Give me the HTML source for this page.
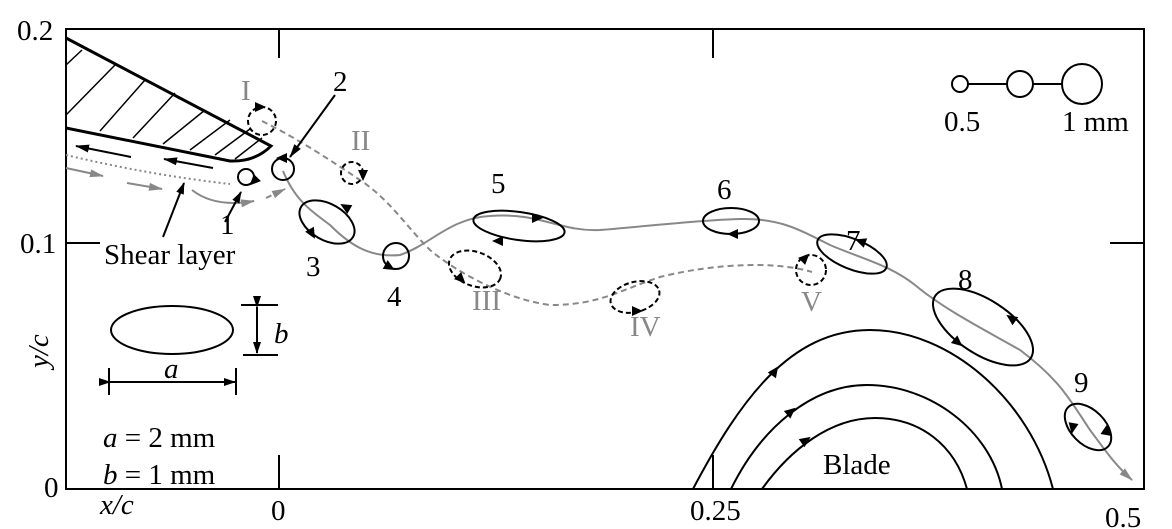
<!DOCTYPE html>
<html><head><style>
body{margin:0;background:#fff}
svg{display:block}
text{font-family:"Liberation Serif",serif;font-size:29px;fill:#000}
.g{fill:#888}
</style></head><body>
<svg width="1172" height="529" viewBox="0 0 1172 529" xmlns="http://www.w3.org/2000/svg">
<defs>
<marker id="ab" markerWidth="12" markerHeight="10" refX="11" refY="5" orient="auto" markerUnits="userSpaceOnUse"><path d="M0,1 L12,5 L0,9z" fill="#000"/></marker>
<marker id="ag" markerWidth="14" markerHeight="10" refX="13" refY="5" orient="auto" markerUnits="userSpaceOnUse"><path d="M0,1 L14,5 L0,9z" fill="#888"/></marker>
<marker id="ab2" markerWidth="14" markerHeight="10" refX="13" refY="5" orient="auto" markerUnits="userSpaceOnUse"><path d="M0,1 L14,5 L0,9z" fill="#000"/></marker>
<path id="h" d="M2,0 L-9,-5 L-9,5z" fill="#000"/>
</defs>
<g fill="none" stroke="#000" stroke-width="2">
<rect x="66" y="29" width="1078" height="460"/>
<line x1="279" y1="29" x2="279" y2="58"/><line x1="713" y1="29" x2="713" y2="58"/>
<line x1="279" y1="489" x2="279" y2="455"/><line x1="713" y1="489" x2="713" y2="455"/>
<line x1="66" y1="243" x2="100" y2="243"/><line x1="1110" y1="243" x2="1144" y2="243"/>
</g>
<g fill="none" stroke="#000">
<path d="M66,38 L271,146 Q255,162 230,161 L66,128" stroke-width="3"/>
<g stroke-width="1.5">
<line x1="66" y1="65" x2="82" y2="50"/><line x1="66" y1="115" x2="115" y2="65"/>
<line x1="100" y1="131" x2="145" y2="80"/><line x1="133" y1="138" x2="175" y2="93"/>
<line x1="163" y1="144" x2="205" y2="110"/><line x1="190" y1="150" x2="230" y2="120"/>
<line x1="215" y1="155" x2="250" y2="129"/><line x1="235" y1="159" x2="262" y2="138"/>
</g>
<line x1="131" y1="157" x2="76" y2="146" stroke-width="2" marker-end="url(#ab2)"/>
<line x1="213" y1="168" x2="164" y2="159" stroke-width="2" marker-end="url(#ab2)"/>
</g>
<g fill="none" stroke="#888" stroke-width="2">
<path d="M66,155 Q150,175 230,184" stroke-dasharray="2,3"/>
<line x1="66" y1="168" x2="103" y2="176" marker-end="url(#ag)"/>
<line x1="127" y1="183" x2="162" y2="189" marker-end="url(#ag)"/>
<path d="M192,190 Q215,208 254,201" marker-end="url(#ag)"/>
<line x1="266" y1="198" x2="285" y2="189" stroke-dasharray="6,4" marker-end="url(#ag)"/>
<path d="M283,171 C295,200 310,210 330,225 C350,245 370,258 400,255 C430,245 450,218 490,216 C540,212 560,232 600,230 C650,226 700,220 740,219 C780,218 800,230 830,245 C860,258 890,265 915,285 C945,310 985,330 1020,350 C1060,380 1070,400 1090,430 C1105,450 1115,465 1132,480" marker-end="url(#ag)"/>
<path d="M262,121 C300,140 330,160 360,180 C390,200 405,225 430,250 C460,275 510,300 550,305 C600,305 620,290 660,277 C720,262 780,262 812,272" stroke-dasharray="6,4"/>
</g>
<g fill="none" stroke="#000" stroke-width="2">
<circle cx="246" cy="177" r="8"/>
<circle cx="283" cy="169" r="11"/>
<ellipse cx="327" cy="222" rx="30" ry="18" transform="rotate(30 327 222)"/>
<circle cx="396" cy="256" r="13"/>
<ellipse cx="519" cy="226" rx="46" ry="14" transform="rotate(8 519 226)"/>
<ellipse cx="731" cy="221" rx="28" ry="13"/>
<ellipse cx="852" cy="254" rx="37" ry="15" transform="rotate(22 852 254)"/>
<ellipse cx="983" cy="327" rx="57" ry="27" transform="rotate(33 983 327)"/>
<ellipse cx="1088" cy="427" rx="28" ry="17" transform="rotate(45 1088 427)"/>
<g stroke-dasharray="5,3">
<circle cx="262" cy="121" r="14"/>
<circle cx="352" cy="173" r="11"/>
<ellipse cx="475" cy="269" rx="27" ry="17" transform="rotate(20 475 269)"/>
<ellipse cx="635" cy="297" rx="25" ry="15" transform="rotate(-15 635 297)"/>
<circle cx="811" cy="270" r="15"/>
</g>
<line x1="335" y1="95" x2="290" y2="157" marker-end="url(#ab2)"/>
<line x1="225" y1="222" x2="241" y2="192" marker-end="url(#ab)"/>
<line x1="163" y1="237" x2="184" y2="183" marker-end="url(#ab)"/>
<path d="M693,489 C740,400 790,330 870,330 C950,330 1030,400 1053,489"/>
<path d="M731,489 C760,430 810,385 867,385 C930,385 990,430 1002,489"/>
<path d="M762,489 C790,450 830,418 875,418 C920,418 955,445 967,489"/>
<ellipse cx="172" cy="330" rx="61" ry="24"/>
<line x1="241" y1="305" x2="278" y2="305"/><line x1="243" y1="355" x2="278" y2="355"/>
<line x1="257" y1="307" x2="257" y2="353" marker-end="url(#ab)" marker-start="url(#ab)"/>
<line x1="109" y1="368" x2="109" y2="395"/><line x1="236" y1="368" x2="236" y2="395"/>
<line x1="110" y1="382" x2="235" y2="382" marker-end="url(#ab)" marker-start="url(#ab)"/>
<circle cx="960" cy="84" r="8"/><circle cx="1020" cy="84" r="13"/><circle cx="1082" cy="84" r="20"/>
<line x1="968" y1="84" x2="1007" y2="84"/><line x1="1033" y1="84" x2="1062" y2="84"/>
</g>
<g>
<use href="#h" transform="translate(278,158) rotate(180)"/>
<use href="#h" transform="translate(251,184) rotate(135)"/>
<use href="#h" transform="translate(342,205) rotate(-150)"/>
<use href="#h" transform="translate(314,237) rotate(60)"/>
<use href="#h" transform="translate(393,269) rotate(30)"/>
<use href="#h" transform="translate(541,218) rotate(0)"/>
<use href="#h" transform="translate(494,241) rotate(180)"/>
<use href="#h" transform="translate(729,234) rotate(180)"/>
<use href="#h" transform="translate(857,240) rotate(200)"/>
<use href="#h" transform="translate(1008,316) rotate(-145)"/>
<use href="#h" transform="translate(961,345) rotate(40)"/>
<use href="#h" transform="translate(1072,432) rotate(100)"/>
<use href="#h" transform="translate(1107,426) rotate(-80)"/>
<use href="#h" transform="translate(264,107) rotate(0)"/>
<use href="#h" transform="translate(363,179) rotate(90)"/>
<use href="#h" transform="translate(464,282) rotate(45)"/>
<use href="#h" transform="translate(641,311) rotate(0)"/>
<use href="#h" transform="translate(808,255) rotate(-45)"/>
<use href="#h" transform="translate(777,368) rotate(-55)"/>
<use href="#h" transform="translate(794,409) rotate(-40)"/>
<use href="#h" transform="translate(809,438) rotate(-35)"/>
</g>
<text x="17" y="40">0.2</text><text x="20" y="253">0.1</text><text x="44" y="497">0</text>
<text x="271" y="520">0</text><text x="690" y="520">0.25</text><text x="1105" y="527">0.5</text>
<text x="100" y="514" font-style="italic">x/c</text>
<text transform="translate(48,368) rotate(-90)" font-style="italic">y/c</text>
<text x="333" y="91">2</text><text x="220" y="234">1</text>
<text x="104" y="264">Shear layer</text>
<text x="306" y="276">3</text><text x="387" y="306">4</text><text x="491" y="193">5</text>
<text x="717" y="199">6</text><text x="846" y="250">7</text><text x="958" y="289">8</text><text x="1074" y="392">9</text>
<text class="g" x="241" y="100">I</text><text class="g" x="351" y="150">II</text>
<text class="g" x="472" y="310">III</text><text class="g" x="630" y="336">IV</text><text class="g" x="801" y="311">V</text>
<text x="823" y="474">Blade</text>
<text x="274" y="343" font-style="italic">b</text><text x="164" y="378" font-style="italic">a</text>
<text x="103" y="447"><tspan font-style="italic">a</tspan> = 2 mm</text>
<text x="103" y="484"><tspan font-style="italic">b</tspan> = 1 mm</text>
<text x="944" y="131">0.5</text><text x="1062" y="131">1 mm</text>
</svg>
</body></html>
